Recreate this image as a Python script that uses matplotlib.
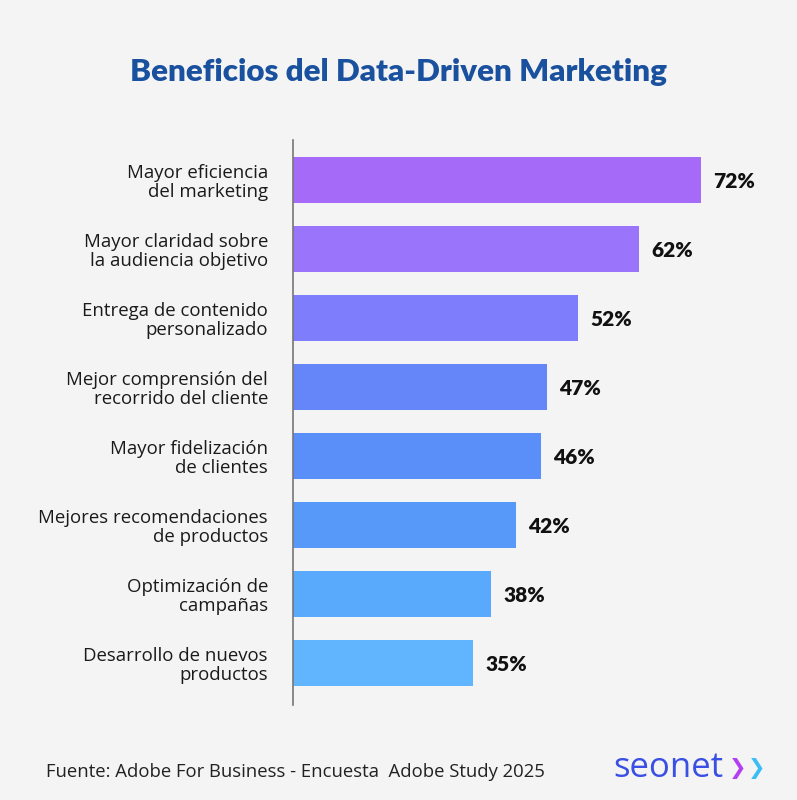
import matplotlib.pyplot as plt

categories = [
    "Mayor eficiencia\ndel marketing",
    "Mayor claridad sobre\nla audiencia objetivo",
    "Entrega de contenido\npersonalizado",
    "Mejor comprensión del\nrecorrido del cliente",
    "Mayor fidelización\nde clientes",
    "Mejores recomendaciones\nde productos",
    "Optimización de\ncampañas",
    "Desarrollo de nuevos\nproductos",
]
values = [72, 62, 52, 47, 46, 42, 38, 35]
bar_colors = ["#a56bf8", "#9a74fa", "#7e7efd", "#6586f9",
              "#5a8ef8", "#5799f9", "#59a9fd", "#61b5fe"]

title = "Beneficios del Data-Driven Marketing"
source = "Fuente: Adobe For Business - Encuesta  Adobe Study 2025"

bg = "#f4f4f4"
fig = plt.figure(figsize=(7.97, 8.0), dpi=100, facecolor=bg)
ax = fig.add_axes([0.3676, 0.11875, 0.586, 0.70625])
ax.set_facecolor(bg)

ypos = list(range(len(values)))
ax.barh(ypos, values, height=0.67, color=bar_colors)

# value axis starts a bit above zero, like the original graphic
ax.set_xlim(5.8, 81.6)
ax.set_ylim(7.61, -0.58)

for y, v in zip(ypos, values):
    ax.text(v + 2.0, y + 0.02, f"{v}%", va="center", ha="left",
            fontsize=15, fontweight="heavy", color="#111111", family="Lato")

ax.set_yticks(ypos)
ax.set_yticklabels(categories, fontsize=13.4, color="#1a1a1a",
                   family="Open Sans", linespacing=1.08)
ax.tick_params(axis="y", length=0, pad=18)
ax.set_xticks([])
for s in ["top", "right", "bottom"]:
    ax.spines[s].set_visible(False)
ax.spines["left"].set_color("#777777")
ax.spines["left"].set_linewidth(1.2)

fig.text(0.5, 0.91, title, ha="center", va="center", fontsize=22.6,
         fontweight="heavy", color="#1a519f", family="Lato")
fig.text(0.058, 0.035, source, ha="left", va="center", fontsize=13.3,
         color="#222222", family="Open Sans")
fig.text(0.769, 0.040, "seonet", ha="left", va="center", fontsize=25,
         color="#3a4fe3", family="Open Sans")
fig.text(0.914, 0.039, "❯", ha="left", va="center", fontsize=15,
         fontweight="bold", color="#b43ef0", family="DejaVu Sans")
fig.text(0.938, 0.039, "❯", ha="left", va="center", fontsize=15,
         fontweight="bold", color="#3dbdf5", family="DejaVu Sans")

fig.savefig("out.png", dpi=100, facecolor=bg)
